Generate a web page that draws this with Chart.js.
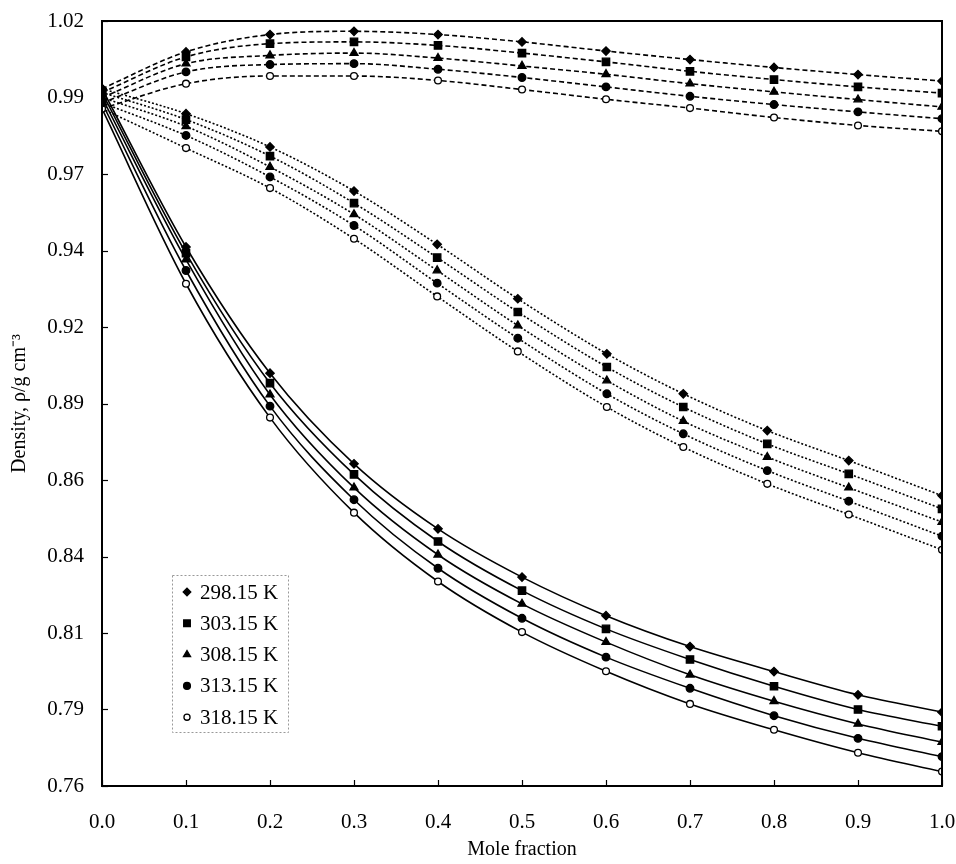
<!DOCTYPE html>
<html>
<head>
<meta charset="utf-8">
<script src="https://cdn.jsdelivr.net/npm/chart.js@4.4.0/dist/chart.umd.min.js"></script>
<style>
  body { margin: 0; background: #fff; }
  #wrap { width: 956px; height: 864px; }
</style>
</head>
<body>
<div id="wrap"><canvas id="densityChart" width="956" height="864"></canvas></div>
<script>
// Temperatures (legend)
const temps = ["298.15 K", "303.15 K", "308.15 K", "313.15 K", "318.15 K"];

// Mole fractions
const xTop = [0, 0.1, 0.2, 0.3, 0.4, 0.5, 0.6, 0.7, 0.8, 0.9, 1.0];
const xMid = [0, 0.1, 0.2, 0.3, 0.399, 0.495, 0.601, 0.692, 0.792, 0.889, 1.0];
const xBot = [0, 0.1, 0.2, 0.3, 0.4, 0.5, 0.6, 0.7, 0.8, 0.9, 1.0];

// Axis ticks
const xTicks = [0, 0.1, 0.2, 0.3, 0.4, 0.5, 0.6, 0.7, 0.8, 0.9, 1.0];
const yTicks = [0.76, 0.786, 0.812, 0.838, 0.864, 0.89, 0.916, 0.942, 0.968, 0.994, 1.02];

// Upper group (dashed)
const top298 = [0.9970, 1.0095, 1.0154, 1.0165, 1.0154, 1.0129, 1.0098, 1.0069, 1.0042, 1.0018, 0.9996];
const top303 = [0.9957, 1.0078, 1.0123, 1.0129, 1.0117, 1.0091, 1.0061, 1.0029, 1.0001, 0.9976, 0.9955];
const top308 = [0.9940, 1.0055, 1.0083, 1.0091, 1.0074, 1.0047, 1.0019, 0.9987, 0.9959, 0.9933, 0.9908];
const top313 = [0.9922, 1.0027, 1.0052, 1.0055, 1.0036, 1.0008, 0.9976, 0.9944, 0.9916, 0.9891, 0.9868];
const top318 = [0.9902, 0.9987, 1.0013, 1.0013, 0.9998, 0.9967, 0.9934, 0.9904, 0.9872, 0.9845, 0.9825];

// Middle group (dotted)
const mid298 = [0.9970, 0.9885, 0.9772, 0.9622, 0.9441, 0.9256, 0.9069, 0.8933, 0.8808, 0.8706, 0.8587];
const mid303 = [0.9957, 0.9865, 0.9741, 0.9581, 0.9396, 0.9211, 0.9024, 0.8888, 0.8763, 0.8661, 0.8542];
const mid308 = [0.9940, 0.9842, 0.9704, 0.9543, 0.9352, 0.9165, 0.8978, 0.8840, 0.8718, 0.8614, 0.8497];
const mid313 = [0.9922, 0.9811, 0.9670, 0.9505, 0.9309, 0.9122, 0.8933, 0.8797, 0.8672, 0.8568, 0.8449];
const mid318 = [0.9902, 0.9768, 0.9632, 0.9460, 0.9264, 0.9077, 0.8888, 0.8752, 0.8627, 0.8523, 0.8403];

// Lower group (solid)
const bot298 = [0.9970, 0.9432, 0.9003, 0.8695, 0.8474, 0.8310, 0.8179, 0.8074, 0.7989, 0.7910, 0.7851];
const bot303 = [0.9957, 0.9411, 0.8969, 0.8659, 0.8431, 0.8264, 0.8134, 0.8030, 0.7939, 0.7860, 0.7803];
const bot308 = [0.9940, 0.9389, 0.8930, 0.8614, 0.8386, 0.8219, 0.8089, 0.7978, 0.7888, 0.7811, 0.7749];
const bot313 = [0.9922, 0.9352, 0.8891, 0.8573, 0.8340, 0.8170, 0.8038, 0.7932, 0.7839, 0.7762, 0.7700];
const bot318 = [0.9902, 0.9307, 0.8852, 0.8529, 0.8295, 0.8123, 0.7990, 0.7879, 0.7791, 0.7713, 0.7649];

const serif = "'Liberation Serif', 'Times New Roman', serif";

// marker per temperature
const markers = [
    { pointStyle: 'rectRot', radius: 4.2, fill: '#000' },
    { pointStyle: 'rect', radius: 5.2, fill: '#000' },
    { pointStyle: 'triangle', radius: 4.6, fill: '#000' },
    { pointStyle: 'circle', radius: 3.8, fill: '#000' },
    { pointStyle: 'circle', radius: 3.4, fill: '#fff' }
];

function makeSet(xs, ys, k, dash) {
    return {
        label: temps[k],
        data: xs.map((x, i) => ({ x: x, y: ys[i] })),
        borderColor: '#000',
        borderWidth: 1.6,
        borderDash: dash,
        pointStyle: markers[k].pointStyle,
        pointRadius: markers[k].radius,
        pointBackgroundColor: markers[k].fill,
        pointBorderColor: '#000',
        pointBorderWidth: 1.3,
        cubicInterpolationMode: 'monotone',
        fill: false
    };
}

const datasets = [];
[top298, top303, top308, top313, top318].forEach((ys, k) => datasets.push(makeSet(xTop, ys, k, [5, 3])));
[mid298, mid303, mid308, mid313, mid318].forEach((ys, k) => datasets.push(makeSet(xMid, ys, k, [2, 2])));
[bot298, bot303, bot308, bot313, bot318].forEach((ys, k) => datasets.push(makeSet(xBot, ys, k, [])));

// Frame, inner ticks and legend box
const framePlugin = {
    id: 'frame',
    afterDraw(chart) {
        const ctx = chart.ctx;
        const a = chart.chartArea;
        const xs = chart.scales.x, ys = chart.scales.y;
        ctx.save();
        ctx.strokeStyle = '#000';
        ctx.lineWidth = 2;
        ctx.setLineDash([]);
        ctx.strokeRect(a.left, a.top, a.right - a.left, a.bottom - a.top);
        ctx.lineWidth = 1.2;
        yTicks.forEach(v => {
            const py = Math.round(ys.getPixelForValue(v)) + 0.5;
            ctx.beginPath(); ctx.moveTo(a.left, py); ctx.lineTo(a.left + 6, py); ctx.stroke();
        });
        xTicks.forEach(v => {
            const px = Math.round(xs.getPixelForValue(v)) + 0.5;
            ctx.beginPath(); ctx.moveTo(px, a.bottom); ctx.lineTo(px, a.bottom - 6); ctx.stroke();
        });

        // legend
        const bx = a.left + 70, by = a.top + 554, bw = 116, bh = 157;
        ctx.strokeStyle = '#999';
        ctx.lineWidth = 1;
        ctx.setLineDash([2, 2]);
        ctx.strokeRect(bx + 0.5, by + 0.5, bw, bh);
        ctx.setLineDash([]);
        ctx.font = "21px " + serif;
        ctx.textBaseline = 'middle';
        ctx.textAlign = 'left';
        temps.forEach((t, k) => {
            const cy = by + 17 + k * 31.3;
            const cx = bx + 15;
            ctx.fillStyle = markers[k].fill;
            ctx.strokeStyle = '#000';
            ctx.lineWidth = 1.3;
            Chart.helpers.drawPoint(ctx, {
                pointStyle: markers[k].pointStyle,
                radius: markers[k].radius * 0.9,
                rotation: 0,
                borderWidth: 1.3
            }, cx, cy);
            ctx.fillStyle = '#000';
            ctx.fillText(t, bx + 28, cy + 1);
        });
        ctx.restore();
    }
};

new Chart(document.getElementById("densityChart"), {
    type: 'line',
    data: { datasets: datasets },
    options: {
        responsive: false,
        animation: false,
        devicePixelRatio: 1,
        layout: { padding: { left: 0, top: 21, right: 14, bottom: 0 } },
        plugins: {
            legend: { display: false },
            tooltip: { enabled: false }
        },
        scales: {
            x: {
                type: 'linear',
                min: 0,
                max: 1,
                afterBuildTicks: s => { s.ticks = xTicks.map(v => ({ value: v })); },
                afterFit: s => { s.height = 78; s.paddingLeft = 0; s.paddingRight = 0; },
                grid: { display: false, drawTicks: false },
                border: { display: false },
                ticks: {
                    padding: 24,
                    color: '#000',
                    font: { family: serif, size: 21 },
                    callback: v => Number(v).toFixed(1)
                },
                title: {
                    display: true,
                    text: 'Mole fraction',
                    color: '#000',
                    font: { family: serif, size: 20 },
                    padding: { top: 0, bottom: 2 }
                }
            },
            y: {
                type: 'linear',
                min: 0.76,
                max: 1.02,
                afterBuildTicks: s => { s.ticks = yTicks.map(v => ({ value: v })); },
                afterFit: s => { s.width = 102; s.paddingTop = 0; s.paddingBottom = 0; },
                grid: { display: false, drawTicks: false },
                border: { display: false },
                ticks: {
                    padding: 18,
                    color: '#000',
                    font: { family: serif, size: 21 },
                    callback: v => Number(v).toFixed(2)
                },
                title: {
                    display: true,
                    text: 'Density, ρ/g cm⁻³',
                    color: '#000',
                    font: { family: serif, size: 20 },
                    padding: { top: 8, bottom: 0 }
                }
            }
        }
    },
    plugins: [framePlugin]
});
</script>
</body>
</html>
